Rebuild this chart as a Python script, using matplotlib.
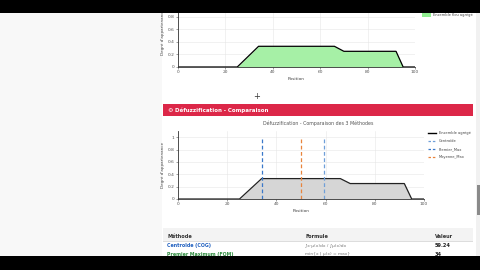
import matplotlib
matplotlib.use("Agg")
import matplotlib.pyplot as plt
import matplotlib.patches as patches
from matplotlib.lines import Line2D

W, H = 480, 270

# ---------------- data ----------------
pos = [0, 25, 34, 66, 70, 92, 95, 100]
mu = [0, 0, 0.33, 0.33, 0.25, 0.25, 0, 0]
x_ticks = [0, 20, 40, 60, 80, 100]
y_ticks = [0, 0.2, 0.4, 0.6, 0.8, 1]
y_labels = ["0", "0.2", "0.4", "0.6", "0.8", "1"]

methods = ["Centroïde (COG)", "Premier Maximum (FOM)", "Moyenne Maximum (MOM)"]
method_short = ["Centroïde", "Premier_Max", "Moyenne_Max"]
method_vals = [59.24, 34, 50]
method_colors = ["#6f9fd8", "#3a78c9", "#e8843c"]
formulas = ["∫x·μ(x)dx / ∫μ(x)dx", "min{x | μ(x) = max}"]
table_vals = ["59.24", "34"]


def px_axes(x0, y0, x1, y1):
    return fig.add_axes([x0 / W, 1 - y1 / H, (x1 - x0) / W, (y1 - y0) / H])


def px_rect(x0, y0, x1, y1, color, z=5, **kw):
    r = patches.Rectangle((x0 / W, 1 - y1 / H), (x1 - x0) / W, (y1 - y0) / H,
                          transform=fig.transFigure, fc=color, ec="none", zorder=z, **kw)
    fig.add_artist(r)


def px_text(x, y, s, **kw):
    fig.text(x / W, 1 - y / H, s, **kw)


def style_axes(ax):
    ax.set_xlim(0, 100)
    ax.set_ylim(0, 1.1)
    ax.set_xticks(x_ticks)
    ax.set_yticks(y_ticks)
    ax.set_yticklabels(y_labels)
    ax.tick_params(labelsize=3.2, length=1.5, width=0.4, pad=1, colors="#555555")
    for s in ["top", "right"]:
        ax.spines[s].set_visible(False)
    for s in ["left", "bottom"]:
        ax.spines[s].set_linewidth(0.6)
        ax.spines[s].set_color("#333333")
    ax.grid(True, color="#e6e6e6", linewidth=0.4)
    ax.set_axisbelow(True)
    ax.set_facecolor("white")


fig = plt.figure(figsize=(W / 100, H / 100), dpi=100)
fig.patch.set_facecolor("white")

# ---------------- page background ----------------
px_rect(0, 0, 162, H, "#f8f8f8", z=0)
px_rect(476, 0, W, H, "#f1f1f1", z=0)
px_rect(477, 185, W, 215, "#8a8a8a", z=0)

# ---------------- top chart ----------------
ax1 = px_axes(178, -2, 415, 67)
style_axes(ax1)
ax1.fill_between(pos, mu, color="#a6f0a6", linewidth=0)
ax1.plot(pos, mu, color="black", linewidth=0.9)
ax1.set_xlabel("Position", fontsize=3.2, labelpad=2, color="#444444")
ax1.set_ylabel("Degré d'appartenance", fontsize=3, labelpad=2, color="#444444")
px_rect(422, 13, 431, 17, "#90ee90", z=6)
px_text(433, 15.5, "Ensemble flou agrégé", fontsize=2.6, color="#444444",
        va="center", zorder=6)

px_text(257, 96, "+", fontsize=6, color="#333333", ha="center", va="center")

# ---------------- red banner ----------------
px_rect(163, 104, 473, 116, "#dc2748", z=1)
px_text(170, 110, "⚙", fontsize=4.5, color="white", ha="center", va="center", zorder=2)
px_text(175, 110, "Défuzzification - Comparaison", fontsize=4, color="white",
        va="center", fontweight="bold", zorder=2)

px_text(318, 123.5, "Défuzzification - Comparaison des 3 Méthodes", fontsize=3.4,
        color="#555555", ha="center", va="center")

# ---------------- bottom chart ----------------
ax2 = px_axes(178, 131, 424, 199)
style_axes(ax2)
ax2.fill_between(pos, mu, color="#d6d6d6", linewidth=0)
ax2.plot(pos, mu, color="#222222", linewidth=0.9)
for v, c in zip(method_vals, method_colors):
    ax2.axvline(v, ymin=0, ymax=1 / 1.1, color=c, linestyle="--", linewidth=0.9,
                dashes=(3, 2))
ax2.set_xlabel("Position", fontsize=3.2, labelpad=2, color="#444444")
ax2.set_ylabel("Degré d'appartenance", fontsize=3, labelpad=2, color="#444444")

handles = [Line2D([0], [0], color="black", linewidth=1.0)]
labels = ["Ensemble agrégé"]
for name, c in zip(method_short, method_colors):
    handles.append(Line2D([0], [0], color=c, linestyle="--", linewidth=0.9, dashes=(2, 1.5)))
    labels.append(name)
fig.legend(handles, labels, loc="upper left", bbox_to_anchor=(427 / W, 1 - 130 / H),
           fontsize=2.6, frameon=False, handlelength=2.2, labelspacing=1.1,
           handletextpad=0.8, labelcolor="#444444", borderaxespad=0, borderpad=0.3)

# ---------------- table ----------------
px_rect(163, 228, 473, 241, "#f3f3f3", z=1)
px_rect(163, 241, 473, 241.6, "#dddddd", z=1)
px_rect(163, 250, 473, 250.4, "#eeeeee", z=1)
px_text(167, 236, "Méthode", fontsize=3.6, color="#333333", va="center", fontweight="bold")
px_text(305, 236, "Formule", fontsize=3.6, color="#333333", va="center", fontweight="bold")
px_text(435, 236, "Valeur", fontsize=3.6, color="#333333", va="center", fontweight="bold")
row_y = [245.5, 254.5]
row_colors = ["#1f5fbf", "#2e8b3e"]
for i in range(2):
    px_text(167, row_y[i], methods[i], fontsize=3.4, color=row_colors[i], va="center",
            fontweight="bold")
    px_text(305, row_y[i], formulas[i], fontsize=3.2, color="#777777", va="center")
    px_text(435, row_y[i], table_vals[i], fontsize=3.6, color="#222222", va="center",
            fontweight="bold")

# ---------------- screen black bars ----------------
px_rect(0, 0, W, 13, "black", z=20)
px_rect(0, 256, W, H, "black", z=20)

fig.savefig("out.png", dpi=100)
